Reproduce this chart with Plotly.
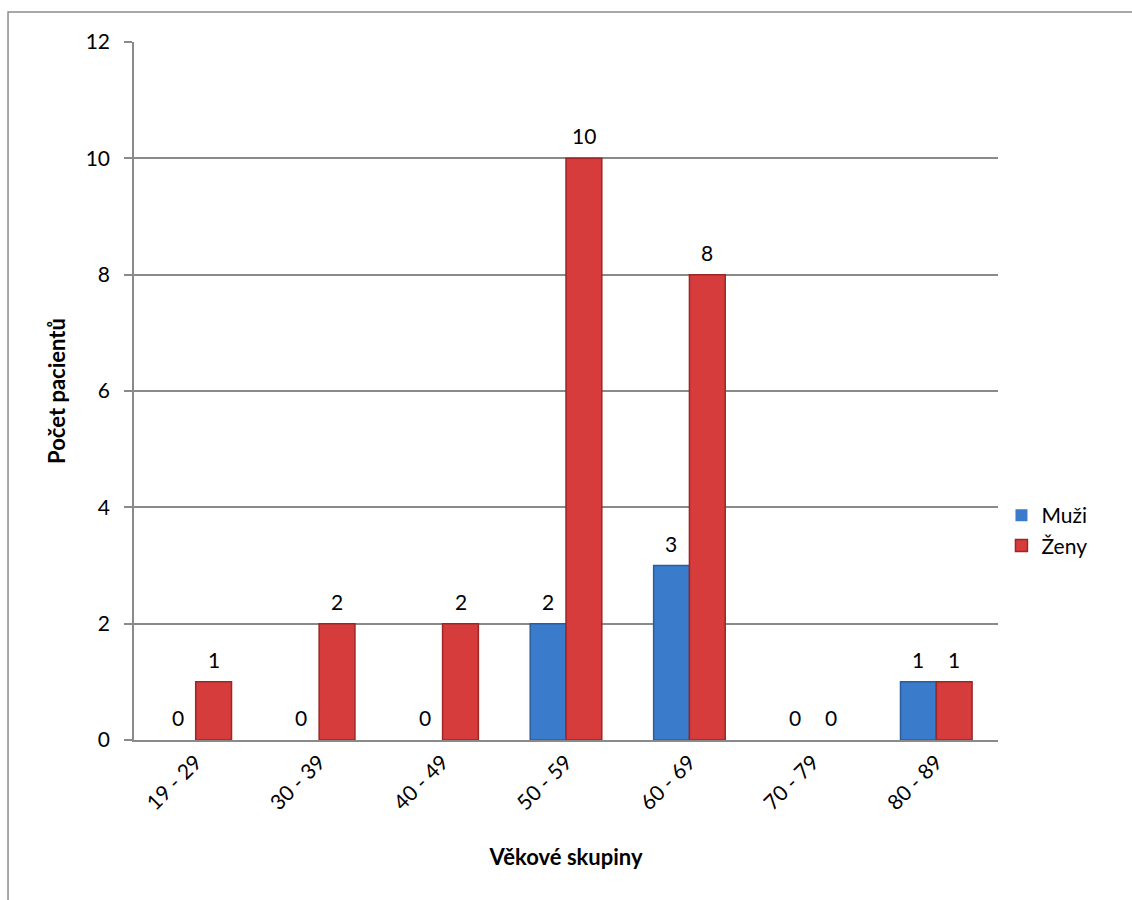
import plotly.graph_objects as go

categories = ["19 - 29", "30 - 39", "40 - 49", "50 - 59", "60 - 69", "70 - 79", "80 - 89"]
muzi = [0, 0, 0, 2, 3, 0, 1]
zeny = [1, 2, 2, 10, 8, 0, 1]
series_names = ["Muži", "Ženy"]
y_ticks = [0, 2, 4, 6, 8, 10, 12]

FONT = "Lato, 'Open Sans', sans-serif"
GRID = "#8a8a8a"
FS = 22

fig = go.Figure()
fig.add_trace(go.Bar(
    x=categories, y=muzi, name=series_names[0],
    marker=dict(color="#3b7bcc",
                line=dict(color="#2a5c9e", width=[1.5 if v else 0 for v in muzi])),
))
fig.add_trace(go.Bar(
    x=categories, y=zeny, name=series_names[1],
    marker=dict(color="#d63c3c",
                line=dict(color="#9c2626", width=[1.5 if v else 0 for v in zeny])),
))

annotations = []
for shift, vals in ((-18, muzi), (18, zeny)):
    for c, v in zip(categories, vals):
        annotations.append(dict(
            x=c, y=v, xref="x", yref="y", text=str(v), showarrow=False,
            xshift=shift, yshift=8, yanchor="bottom",
            font=dict(family=FONT, size=FS - 1, color="#000000"),
        ))

fig.update_layout(
    width=1132, height=900,
    margin=dict(l=134, r=134, t=42, b=160, autoexpand=False),
    paper_bgcolor="white", plot_bgcolor="white",
    barmode="group", bargap=0.42, bargroupgap=0,
    font=dict(family=FONT, size=FS, color="#000000"),
    annotations=annotations,
    legend=dict(
        x=1.004, y=0.30, xanchor="left", yanchor="middle",
        font=dict(family=FONT, size=FS - 1, color="#000000"),
        itemwidth=30, tracegroupgap=2, bgcolor="rgba(0,0,0,0)",
    ),
    shapes=[dict(
        type="rect", xref="paper", yref="paper",
        x0=-0.1458, x1=1.3, y0=-0.5, y1=1.0430,
        line=dict(color="#8c8c8c", width=1.5), layer="below",
    )],
)

fig.update_yaxes(
    range=[0, 12], tickvals=y_ticks, ticktext=[str(t) for t in y_ticks],
    showgrid=True, gridcolor=GRID, gridwidth=1.5,
    showline=True, linecolor=GRID, linewidth=1.5,
    ticks="outside", ticklen=8, tickcolor=GRID, tickwidth=1.5,
    ticklabelstandoff=10,
    zeroline=False,
    tickfont=dict(family=FONT, size=FS - 1),
    title=dict(text="<b>Počet pacientů</b>", standoff=14, font=dict(family=FONT, size=FS)),
    automargin=False,
)
fig.update_xaxes(
    type="category",
    showline=True, linecolor=GRID, linewidth=1.5,
    ticks="", tickangle=-45,
    tickfont=dict(family=FONT, size=FS - 1),
    title=dict(text="<b>Věkové skupiny</b>", standoff=36, font=dict(family=FONT, size=FS)),
    automargin=False,
)

fig.write_html("out.html")
